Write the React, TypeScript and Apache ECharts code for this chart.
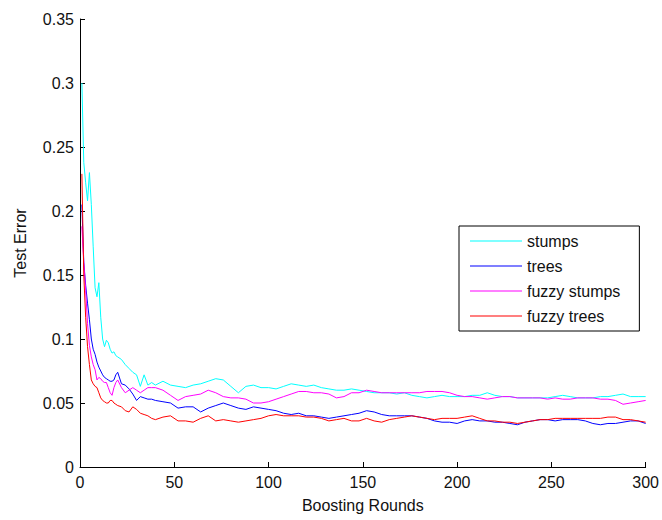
import React, { useEffect, useRef } from "react";
import * as echarts from "echarts";

const rounds = [
  1, 2, 3, 4, 5, 6, 7, 8, 9, 10, 11, 12, 13, 14, 15, 16, 17, 18, 19, 20,
  22, 24, 26, 28, 30, 32, 34, 36, 38, 40,
  44, 48, 52, 56, 60, 64, 68, 72, 76, 80,
  84, 88, 92, 96, 100, 104, 108, 112, 116, 120,
  124, 128, 132, 136, 140, 144, 148, 152, 156, 160,
  164, 168, 172, 176, 180, 184, 188, 192, 196, 200,
  204, 208, 212, 216, 220, 224, 228, 232, 236, 240,
  244, 248, 252, 256, 260, 264, 268, 272, 276, 280,
  284, 288, 292, 296, 300,
];

const stumps = [
  0.3, 0.238, 0.222, 0.208, 0.23, 0.205, 0.172, 0.14, 0.133, 0.144, 0.117, 0.1, 0.094, 0.099, 0.097, 0.092, 0.089, 0.09, 0.087, 0.086,
  0.084, 0.08, 0.077, 0.074, 0.072, 0.063, 0.072, 0.064, 0.066, 0.064,
  0.067, 0.064, 0.063, 0.062, 0.064, 0.065, 0.067, 0.069, 0.068, 0.063,
  0.058, 0.063, 0.064, 0.062, 0.062, 0.061, 0.063, 0.065, 0.064, 0.063,
  0.064, 0.062, 0.061, 0.06, 0.06, 0.061, 0.06, 0.059, 0.058, 0.058,
  0.058, 0.057, 0.058, 0.056, 0.055, 0.054, 0.055, 0.056, 0.055, 0.055,
  0.055, 0.056, 0.056, 0.058, 0.056, 0.055, 0.055, 0.054, 0.054, 0.054,
  0.054, 0.054, 0.055, 0.056, 0.055, 0.054, 0.054, 0.054, 0.055, 0.055,
  0.056, 0.057, 0.055, 0.055, 0.055,
];

const trees = [
  0.205, 0.16, 0.142, 0.128, 0.115, 0.1, 0.092, 0.088, 0.082, 0.078, 0.075, 0.072, 0.07, 0.069, 0.068, 0.067, 0.067, 0.068, 0.072, 0.074,
  0.065, 0.064, 0.061, 0.057, 0.052, 0.055, 0.054, 0.053, 0.053, 0.052,
  0.051, 0.05, 0.046, 0.047, 0.047, 0.043, 0.046, 0.048, 0.05, 0.048,
  0.046, 0.045, 0.047, 0.046, 0.045, 0.044, 0.042, 0.041, 0.042, 0.04,
  0.04, 0.039, 0.038, 0.039, 0.04, 0.041, 0.042, 0.044, 0.043, 0.041,
  0.04, 0.04, 0.04, 0.04, 0.039, 0.038, 0.036, 0.035, 0.035, 0.034,
  0.036, 0.037, 0.036, 0.036, 0.035, 0.035, 0.034, 0.033, 0.035, 0.036,
  0.037, 0.037, 0.036, 0.037, 0.037, 0.037, 0.036, 0.034, 0.033, 0.034,
  0.034, 0.035, 0.036, 0.036, 0.034,
];

const fuzzyStumps = [
  0.188, 0.16, 0.138, 0.112, 0.095, 0.086, 0.08, 0.076, 0.068, 0.07, 0.069, 0.067, 0.066, 0.066, 0.062, 0.058, 0.056, 0.062, 0.066, 0.068,
  0.062, 0.058, 0.06, 0.062, 0.06, 0.058, 0.06, 0.062, 0.062, 0.062,
  0.06, 0.056, 0.052, 0.055, 0.056, 0.057, 0.06, 0.058, 0.055, 0.054,
  0.054, 0.053, 0.05, 0.05, 0.051, 0.053, 0.055, 0.057, 0.059, 0.059,
  0.058, 0.058, 0.057, 0.054, 0.055, 0.058, 0.058, 0.06, 0.059, 0.058,
  0.058, 0.058, 0.058, 0.058, 0.058, 0.059, 0.059, 0.059, 0.058, 0.056,
  0.055, 0.055, 0.054, 0.053, 0.054, 0.055, 0.055, 0.054, 0.054, 0.054,
  0.054, 0.053, 0.054, 0.053, 0.053, 0.054, 0.054, 0.054, 0.053, 0.053,
  0.052, 0.049, 0.05, 0.051, 0.052,
];

const fuzzyTrees = [
  0.229, 0.15, 0.117, 0.094, 0.08, 0.068, 0.065, 0.063, 0.062, 0.058, 0.054, 0.052, 0.051, 0.05, 0.05, 0.052, 0.052, 0.05, 0.049, 0.048,
  0.047, 0.044, 0.043, 0.047, 0.045, 0.042, 0.041, 0.04, 0.038, 0.037,
  0.039, 0.04, 0.036, 0.036, 0.035, 0.038, 0.04, 0.036, 0.037, 0.036,
  0.035, 0.036, 0.037, 0.038, 0.04, 0.041, 0.04, 0.04, 0.04, 0.039,
  0.039, 0.038, 0.036, 0.037, 0.038, 0.036, 0.036, 0.038, 0.036, 0.035,
  0.037, 0.038, 0.039, 0.04, 0.039, 0.038, 0.037, 0.038, 0.038, 0.038,
  0.039, 0.04, 0.038, 0.036, 0.036, 0.035, 0.035, 0.034, 0.035, 0.036,
  0.037, 0.037, 0.038, 0.038, 0.038, 0.038, 0.038, 0.038, 0.038, 0.039,
  0.039, 0.037, 0.037, 0.036, 0.035,
];

const seriesNames = ["stumps", "trees", "fuzzy stumps", "fuzzy trees"];
const seriesColors = ["#00FFFF", "#0000FF", "#FF00FF", "#FF0000"];
const seriesValues = [stumps, trees, fuzzyStumps, fuzzyTrees];

const FONT = "'Liberation Sans', Arial, sans-serif";

export default function App() {
  const ref = useRef<HTMLDivElement>(null);
  useEffect(() => {
    if (!ref.current) return;
    const chart = echarts.init(ref.current, null, { renderer: "svg" });
    chart.setOption({
      animation: false,
      backgroundColor: "#fff",
      textStyle: { fontFamily: FONT },
      grid: { left: 80, right: 12, top: 19, bottom: 53, containLabel: false },
      xAxis: {
        type: "value",
        min: 0,
        max: 300,
        interval: 50,
        name: "Boosting Rounds",
        nameLocation: "middle",
        nameGap: 30,
        nameTextStyle: { fontSize: 16, color: "#111", fontFamily: FONT },
        axisLine: { lineStyle: { color: "#000", width: 1 } },
        axisTick: { inside: true, length: 5, lineStyle: { color: "#000" } },
        axisLabel: { fontSize: 16, color: "#111", margin: 7, fontFamily: FONT },
        splitLine: { show: false },
      },
      yAxis: {
        type: "value",
        min: 0,
        max: 0.35,
        interval: 0.05,
        name: "Test Error",
        nameLocation: "middle",
        nameGap: 52,
        nameTextStyle: { fontSize: 16, color: "#111", fontFamily: FONT },
        axisLine: { show: true, lineStyle: { color: "#000", width: 1 } },
        axisTick: { show: true, inside: true, length: 5, lineStyle: { color: "#000" } },
        axisLabel: {
          fontSize: 16,
          color: "#111",
          margin: 6,
          fontFamily: FONT,
          formatter: (v: number) => String(+v.toFixed(2)),
        },
        splitLine: { show: false },
      },
      legend: {
        orient: "vertical",
        left: 459,
        top: 226,
        backgroundColor: "#fff",
        borderColor: "#000",
        borderWidth: 1,
        borderRadius: 0,
        padding: [7, 19, 7, 11],
        icon: "rect",
        itemWidth: 52,
        itemHeight: 1,
        itemGap: 9,
        textStyle: { fontSize: 16, color: "#111", lineHeight: 16, fontFamily: FONT },
        data: seriesNames,
      },
      series: seriesNames.map((name, k) => ({
        name,
        type: "line",
        symbol: "none",
        color: seriesColors[k],
        lineStyle: { color: seriesColors[k], width: 1 },
        data: rounds.map((r, i) => [r, seriesValues[k][i]]),
      })),
    });
    return () => chart.dispose();
  }, []);
  return (
    <div
      ref={ref}
      style={{ position: "fixed", left: 0, top: 0, width: 662, height: 520 }}
    />
  );
}
